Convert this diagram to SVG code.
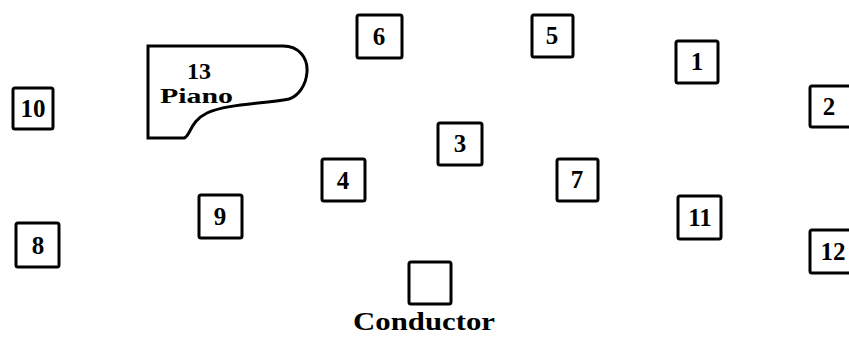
<svg xmlns="http://www.w3.org/2000/svg" width="849" height="337" viewBox="0 0 849 337">
<style>
.box{fill:#fff;stroke:#000;stroke-width:3;}
.num{font-family:"Liberation Serif","DejaVu Serif",serif;font-weight:bold;font-size:25px;text-anchor:middle;fill:#000;}
.lbl{font-family:"Liberation Serif","DejaVu Serif",serif;font-weight:bold;font-size:25px;fill:#000;}
</style>
<rect width="849" height="337" fill="#fff"/>
<g id="connectors"></g>
<g id="n1"><rect class="box" x="676" y="41" width="42" height="42" rx="2"/><text class="num" x="697" y="70">1</text></g>
<g id="n2"><rect class="box" x="810" y="86" width="44" height="41" rx="2"/><text class="num" x="829" y="115">2</text></g>
<g id="n3"><rect class="box" x="438" y="123" width="44" height="42" rx="2"/><text class="num" x="460" y="152">3</text></g>
<g id="n4"><rect class="box" x="322" y="159" width="43" height="42" rx="2"/><text class="num" x="343" y="189">4</text></g>
<g id="n5"><rect class="box" x="532" y="15" width="41" height="42" rx="2"/><text class="num" x="552" y="44">5</text></g>
<g id="n6"><rect class="box" x="357" y="15" width="45" height="43" rx="2"/><text class="num" x="379" y="45">6</text></g>
<g id="n7"><rect class="box" x="557" y="159" width="41" height="42" rx="2"/><text class="num" x="577" y="188">7</text></g>
<g id="n8"><rect class="box" x="16" y="223" width="43" height="44" rx="2"/><text class="num" x="38" y="254">8</text></g>
<g id="n9"><rect class="box" x="199" y="195" width="43" height="43" rx="2"/><text class="num" x="220" y="225">9</text></g>
<g id="n10"><rect class="box" x="13" y="88" width="40" height="41" rx="2"/><text class="num" x="33" y="117">10</text></g>
<g id="n11"><rect class="box" x="678" y="196" width="43" height="43" rx="2"/><text class="num" x="700" y="226">11</text></g>
<g id="n12"><rect class="box" x="810" y="230" width="44" height="43" rx="2"/><text class="num" x="833" y="260">12</text></g>
<g id="n13">
<path class="box" d="M148,46 L283,46 C299,46 308,58 307,72 C306,86 298,96 289,99 C262,104 226,104 207,113 C190,121 190,137 184,138 L148,138 Z"/>
<text class="lbl" x="199" y="79" text-anchor="middle" style="font-size:24px">13</text>
<text class="lbl" x="160" y="103" style="font-size:22px" textLength="73" lengthAdjust="spacingAndGlyphs">Piano</text>
</g>
<g id="conductor"><rect class="box" x="409" y="262" width="42" height="42" rx="2"/>
<text class="lbl" x="353" y="330" textLength="142" lengthAdjust="spacingAndGlyphs">Conductor</text></g>
</svg>
